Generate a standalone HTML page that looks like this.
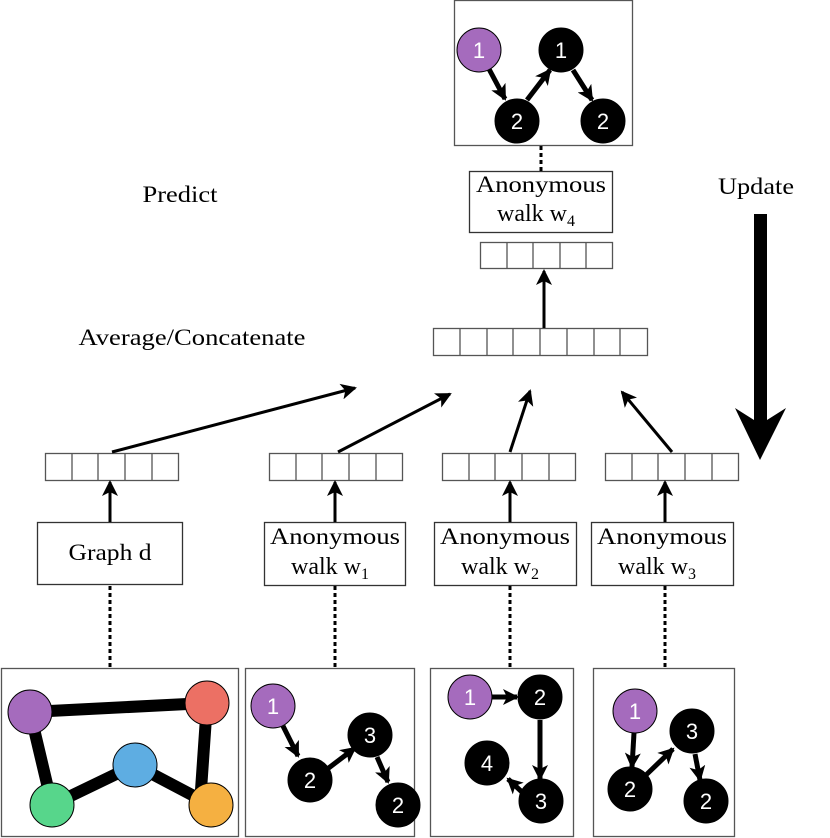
<!DOCTYPE html>
<html><head><meta charset="utf-8"><style>
html,body{margin:0;padding:0;background:#fff;}
svg{display:block;}
</style></head><body>
<svg width="830" height="838" viewBox="0 0 830 838" xmlns="http://www.w3.org/2000/svg">
<defs>
<marker id="a" markerWidth="16" markerHeight="16" refX="14" refY="8" orient="auto" markerUnits="userSpaceOnUse" viewBox="0 0 16 16">
<path d="M0,0 L16,8 L0,16 L4,8 Z" fill="#000"/></marker>
<marker id="b" markerWidth="16" markerHeight="16" refX="14" refY="8" orient="auto" markerUnits="userSpaceOnUse" viewBox="0 0 16 16">
<path d="M0,0 L16,8 L0,16 L4,8 Z" fill="#000"/></marker>
</defs>
<g fill="none" stroke="#555" stroke-width="1.3">
<rect x="454.5" y="0.5" width="178" height="145"/>
<rect x="469.5" y="171.5" width="143" height="61" stroke="#333"/>
<rect x="480.5" y="242.5" width="132" height="26"/>
<path d="M507 242v26M533 242v26M560 242v26M586 242v26"/>
<rect x="433.5" y="328.5" width="214" height="27"/>
<path d="M460 328v27M487 328v27M513 328v27M540 328v27M567 328v27M594 328v27M620 328v27"/>
<rect x="45.5" y="453.5" width="133" height="27"/>
<path d="M72 453v27M98 453v27M125 453v27M152 453v27"/>
<rect x="269.5" y="453.5" width="133" height="27"/>
<path d="M296 453v27M322 453v27M349 453v27M376 453v27"/>
<rect x="442.5" y="453.5" width="133" height="27"/>
<path d="M469 453v27M495 453v27M522 453v27M549 453v27"/>
<rect x="605.5" y="453.5" width="133" height="27"/>
<path d="M632 453v27M658 453v27M685 453v27M712 453v27"/>
<rect x="37.5" y="522.5" width="145" height="62" stroke="#333"/>
<rect x="264.5" y="522.5" width="141" height="63" stroke="#333"/>
<rect x="434.5" y="522.5" width="142" height="63" stroke="#333"/>
<rect x="591.5" y="522.5" width="142" height="63" stroke="#333"/>
<rect x="1.5" y="668.5" width="237" height="168"/>
<rect x="245.5" y="668.5" width="169" height="168"/>
<rect x="430.5" y="668.5" width="143" height="168"/>
<rect x="593.5" y="668.5" width="141" height="168"/>
</g>
<g stroke="#000" stroke-width="3" stroke-dasharray="4,3">
<path d="M541 146v25M110 586v82M335 586v82M510 586v82M665 586v82"/>
</g>
<g stroke="#000" stroke-width="3" fill="none" marker-end="url(#b)">
<path d="M544 328V271"/>
<path d="M110 522V482"/>
<path d="M335 522V482"/>
<path d="M510 522V482"/>
<path d="M665 522V482"/>
<path d="M112 452L355 388"/>
<path d="M338 452L450 394"/>
<path d="M510 452L530 391"/>
<path d="M672 452L622 392"/>
</g>
<path d="M754 214H767V420L786 408L760 460L735 408L754 420Z" fill="#000"/>
<g font-family="'Liberation Serif','Times New Roman',serif" font-size="23" fill="#000" text-anchor="middle">
<text x="180" y="202" textLength="75" lengthAdjust="spacingAndGlyphs">Predict</text>
<text x="192" y="345" textLength="227" lengthAdjust="spacingAndGlyphs">Average/Concatenate</text>
<text x="756" y="194" textLength="76" lengthAdjust="spacingAndGlyphs">Update</text>
<text x="541" y="192" textLength="130" lengthAdjust="spacingAndGlyphs">Anonymous</text>
<text x="536" y="221" font-size="24">walk w<tspan font-size="16" dy="5">4</tspan></text>
<text x="110" y="560" textLength="83" lengthAdjust="spacingAndGlyphs">Graph d</text>
<text x="335" y="544" textLength="130" lengthAdjust="spacingAndGlyphs">Anonymous</text>
<text x="330" y="574" font-size="24">walk w<tspan font-size="16" dy="5">1</tspan></text>
<text x="505" y="544" textLength="130" lengthAdjust="spacingAndGlyphs">Anonymous</text>
<text x="500" y="574" font-size="24">walk w<tspan font-size="16" dy="5">2</tspan></text>
<text x="662" y="544" textLength="130" lengthAdjust="spacingAndGlyphs">Anonymous</text>
<text x="657" y="574" font-size="24">walk w<tspan font-size="16" dy="5">3</tspan></text>
</g>
<g stroke="#000" stroke-width="12">
<path d="M30 712L207 703M30 712L52 805M52 805L135 765M135 765L211 805M207 703L201 790"/>
</g>
<g stroke="#000" stroke-width="1">
<circle cx="30" cy="712" r="22" fill="#a56bbd"/>
<circle cx="207" cy="703" r="22" fill="#ec7064"/>
<circle cx="135" cy="765" r="22" fill="#5eade2"/>
<circle cx="52" cy="805" r="22" fill="#57d68b"/>
<circle cx="211" cy="805" r="22" fill="#f5b041"/>
</g>
<g stroke="#000" stroke-width="5" fill="none" marker-end="url(#a)">
<path d="M489 69L505 99"/>
<path d="M527 100L550 70"/>
<path d="M573 70L592 100"/>
<path d="M283 726L298 756"/>
<path d="M326 770L355 748"/>
<path d="M377 757L388 782"/>
<path d="M492 697L517 697"/>
<path d="M540 720V779"/>
<path d="M523 793L508 779"/>
<path d="M634 733L632 767"/>
<path d="M646 775L673 749"/>
<path d="M695 754L700 780"/>
</g>
<g stroke="#000" stroke-width="1">
<circle cx="479" cy="50" r="22" fill="#a56bbd"/>
<circle cx="561" cy="50" r="22" fill="#000"/>
<circle cx="517" cy="121" r="22" fill="#000"/>
<circle cx="603" cy="121" r="22" fill="#000"/>
<circle cx="273" cy="706" r="22" fill="#a56bbd"/>
<circle cx="310" cy="780" r="22" fill="#000"/>
<circle cx="370" cy="735" r="22" fill="#000"/>
<circle cx="398" cy="805" r="22" fill="#000"/>
<circle cx="470" cy="697" r="22" fill="#a56bbd"/>
<circle cx="540" cy="697" r="22" fill="#000"/>
<circle cx="487" cy="763" r="22" fill="#000"/>
<circle cx="541" cy="801" r="22" fill="#000"/>
<circle cx="635" cy="711" r="22" fill="#a56bbd"/>
<circle cx="692" cy="731" r="22" fill="#000"/>
<circle cx="630" cy="789" r="22" fill="#000"/>
<circle cx="706" cy="801" r="22" fill="#000"/>
</g>
<g font-family="'Liberation Sans',sans-serif" font-size="22" fill="#fff" text-anchor="middle">
<text x="479" y="58">1</text>
<text x="561" y="58">1</text>
<text x="517" y="129">2</text>
<text x="603" y="129">2</text>
<text x="273" y="714">1</text>
<text x="310" y="788">2</text>
<text x="370" y="743">3</text>
<text x="398" y="813">2</text>
<text x="470" y="705">1</text>
<text x="540" y="705">2</text>
<text x="487" y="771">4</text>
<text x="541" y="809">3</text>
<text x="635" y="719">1</text>
<text x="692" y="739">3</text>
<text x="630" y="797">2</text>
<text x="706" y="809">2</text>
</g>
</svg>
</body></html>
